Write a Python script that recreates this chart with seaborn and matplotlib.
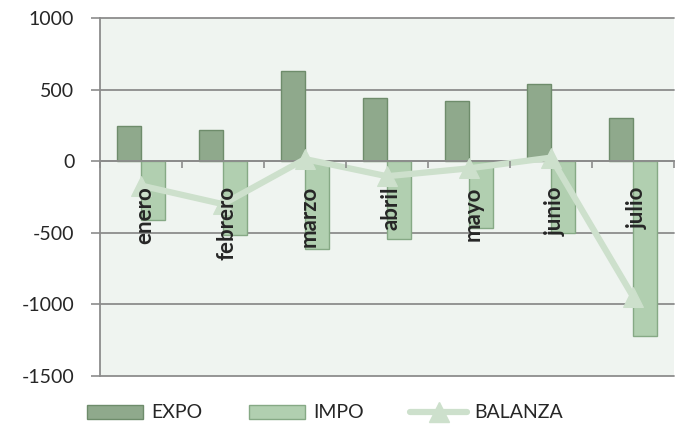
import numpy as np
import pandas as pd
import seaborn as sns
import matplotlib.pyplot as plt
import matplotlib.transforms as mtransforms
from matplotlib.lines import Line2D

# datos
meses = ['enero', 'febrero', 'marzo', 'abril', 'mayo', 'junio', 'julio']
expo = [245, 220, 630, 440, 420, 540, 300]
impo = [-410, -515, -610, -540, -465, -500, -1220]
balanza = [-170, -300, 15, -105, -50, 25, -945]
y_ticks = [-1500, -1000, -500, 0, 500, 1000]

sns.set_theme(style='white')
plt.rcParams['font.family'] = ['Lato', 'DejaVu Sans']
plt.rcParams['axes.unicode_minus'] = False

c_expo, c_expo_edge = '#8fa98c', '#6e8c6b'
c_impo, c_impo_edge = '#b1cfb0', '#86a985'
c_bal = '#cde0cc'
c_grid = '#8c8c8c'

df = pd.DataFrame({
    'mes': meses * 2,
    'serie': ['EXPO'] * len(meses) + ['IMPO'] * len(meses),
    'valor': expo + impo,
})

fig = plt.figure(figsize=(6.79, 4.24), dpi=100)
ax = fig.add_axes([100 / 679, 1 - 376 / 424, 574 / 679, 358 / 424])
ax.set_facecolor('#eff4f0')

sns.barplot(data=df, x='mes', y='valor', hue='serie', order=meses,
            palette=[c_expo, c_impo], width=0.58, dodge=True,
            saturation=1, legend=False, ax=ax, zorder=2)
for cont, ec in zip(ax.containers, [c_expo_edge, c_impo_edge]):
    for p in cont:
        p.set_edgecolor(ec)
        p.set_linewidth(1.0)

x = np.arange(len(meses))
sns.lineplot(x=x, y=balanza, color=c_bal, lw=4.5, marker='^', markersize=15,
             markeredgecolor=c_bal, ax=ax, zorder=3)

ax.set_xlim(-0.5, len(meses) - 0.5)
ax.set_ylim(-1500, 1000)
ax.set_yticks(y_ticks)
ax.yaxis.grid(True, color=c_grid, lw=1.3)
for g in ax.get_ygridlines():
    g.set_clip_on(False)
ax.set_axisbelow(True)
ax.set_xlabel('')
ax.set_ylabel('')

for s in ['top', 'right']:
    ax.spines[s].set_visible(False)
ax.spines['left'].set_color(c_grid)
ax.spines['left'].set_linewidth(1.3)
ax.spines['bottom'].set_position(('data', 0))
ax.spines['bottom'].set_color(c_grid)
ax.spines['bottom'].set_linewidth(1.3)
ax.spines['bottom'].set_zorder(2.5)

ax.set_xticks(np.arange(-0.5, len(meses), 1), labels=[''] * (len(meses) + 1))
ax.set_xticks(x, labels=meses, minor=True)
ax.tick_params(axis='x', which='major', direction='out', length=5,
               width=1.2, color=c_grid, bottom=True)
ax.tick_params(axis='x', which='minor', length=0, pad=18,
               labelsize=16, labelrotation=90, bottom=True)
# etiquetas un poco a la derecha, como en el original
shift = mtransforms.ScaledTranslation(4 / 100, 0, fig.dpi_scale_trans)
for t in ax.get_xticklabels(minor=True):
    t.set_fontweight('bold')
    t.set_va('top')
    t.set_transform(t.get_transform() + shift)
ax.xaxis.set_zorder(5)
ax.tick_params(axis='y', direction='out', length=6.5, width=1.2,
               color=c_grid, labelsize=14, pad=12, left=True)

handles = [
    plt.Rectangle((0, 0), 1, 1, fc=c_expo, ec=c_expo_edge),
    plt.Rectangle((0, 0), 1, 1, fc=c_impo, ec=c_impo_edge),
    Line2D([], [], color=c_bal, lw=4.5, marker='^', markersize=15),
]
fig.legend(handles, ['EXPO', 'IMPO', 'BALANZA'], loc='center',
           bbox_to_anchor=(0.479, 1 - 413 / 424), ncol=3, frameon=False,
           fontsize=14, handlelength=2.9, handletextpad=0.4,
           columnspacing=2.4)

fig.savefig('out.png', dpi=100)
